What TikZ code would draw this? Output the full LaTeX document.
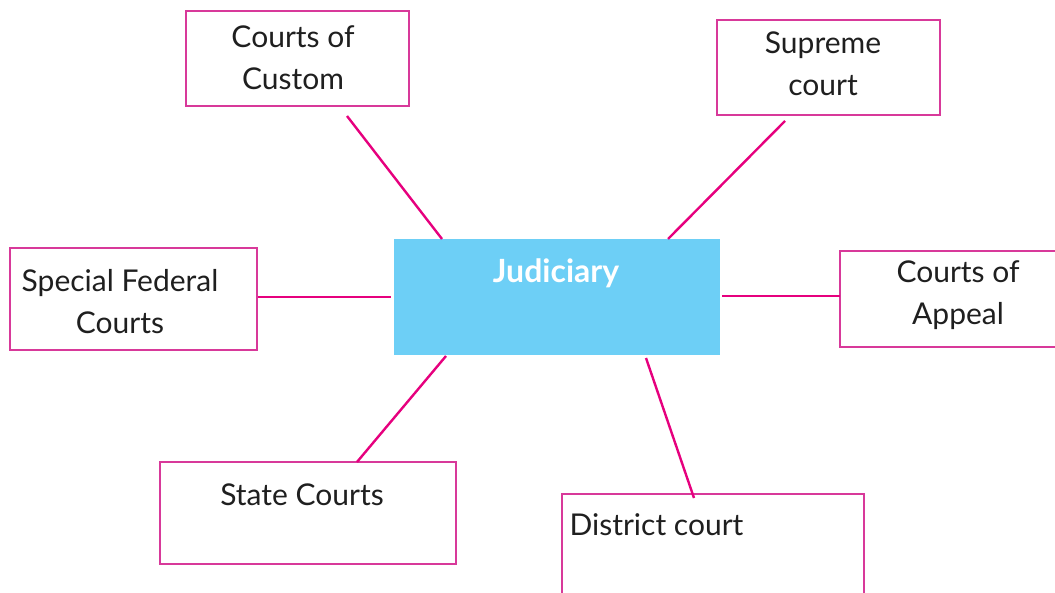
\documentclass[tikz,border=0pt]{standalone}
\usepackage{fontspec}
\setmainfont{Lato}
\definecolor{boxline}{HTML}{D8399A}
\definecolor{linkline}{HTML}{E6007E}
\definecolor{hubfill}{HTML}{6DCFF6}
\begin{document}
\begin{tikzpicture}[x=1pt,y=-1pt,
  court/.style={draw=boxline,line width=1.4pt,fill=white},
  label/.style={font=\fontsize{30}{42}\selectfont,text=black!88,align=center},
  link/.style={draw=linkline,line width=2.4pt}]
\useasboundingbox (0,0) rectangle (1055,593);
\clip (0,0) rectangle (1055,593);

% central hub
\fill[hubfill] (394,239) rectangle (720,355);
\node[font=\fontsize{32}{36}\selectfont\bfseries,text=white] (hub) at (556,273) {Judiciary};

% surrounding courts
\draw[court] (186,11) rectangle (409,106);
\node[label] (custom) at (293,58) {Courts of\\Custom};

\draw[court] (717,20) rectangle (940,115);
\node[label] (supreme) at (823,64) {Supreme\\court};

\draw[court] (10,248) rectangle (257,350);
\node[label] (special) at (120,302) {Special Federal\\Courts};

\draw[court] (840,251) rectangle (1070,347);
\node[label] (appeal) at (958,295) {Courts of\\Appeal};

\draw[court] (160,462) rectangle (456,564);
\node[label] (state) at (302,495) {State Courts};

\draw[court] (562,494) rectangle (864,610);
\node[label,anchor=west] (district) at (566,525) {District court};

% connector end points
\coordinate (customA) at (347,116);
\coordinate (customB) at (442,239);
\coordinate (supremeA) at (785,121);
\coordinate (supremeB) at (668,239);
\coordinate (specialA) at (258,297);
\coordinate (specialB) at (391,297);
\coordinate (appealA) at (722,296);
\coordinate (appealB) at (840,296);
\coordinate (stateA) at (446,356);
\coordinate (stateB) at (357,462);
\coordinate (districtA) at (646,358);
\coordinate (districtB) at (694,498);

\draw[link] (customA) -- (customB);
\draw[link] (supremeA) -- (supremeB);
\draw[link] (specialA) -- (specialB);
\draw[link] (appealA) -- (appealB);
\draw[link] (stateA) -- (stateB);
\draw[link] (districtA) -- (districtB);
\end{tikzpicture}
\end{document}
